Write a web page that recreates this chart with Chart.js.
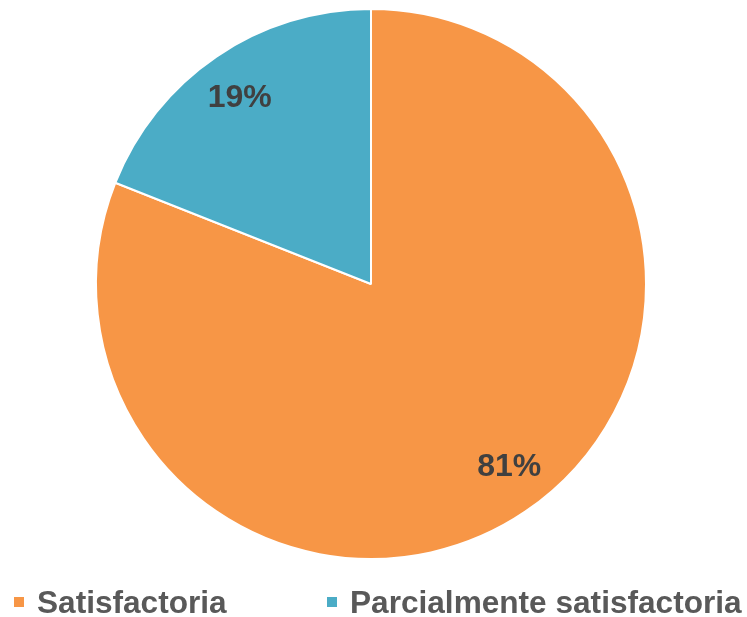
<!DOCTYPE html>
<html>
<head>
<meta charset="utf-8">
<script src="https://cdn.jsdelivr.net/npm/chart.js@4/dist/chart.umd.min.js"></script>
<style>
  html, body { margin: 0; padding: 0; background: #fff; }
  #wrap { position: relative; width: 747px; height: 617px; }
  #legend { position: absolute; left: 0; top: 587px; width: 747px; height: 30px;
    font: bold 31.6px "Liberation Sans", Arial, sans-serif; color: #595959; }
  .item { position: absolute; top: 0; line-height: 30px; white-space: nowrap; }
  .box { position: absolute; width: 10px; height: 10px; top: 10px; }
</style>
</head>
<body>
<div id="wrap">
  <canvas id="pie-chart" width="747" height="617"></canvas>
  <div id="legend"></div>
</div>
<script>
// Datos del gráfico
const categories = ['Satisfactoria', 'Parcialmente satisfactoria'];
const values = [81, 19];
const sliceColors = ['#F79646', '#4BACC6'];

// etiquetas de porcentaje dentro de cada porción
const percentLabels = {
  id: 'percentLabels',
  afterDatasetsDraw(chart) {
    const { ctx } = chart;
    const meta = chart.getDatasetMeta(0);
    const total = values.reduce((a, b) => a + b, 0);
    const nudge = [[10, -6], [-3, 3]]; // ajuste fino como en Excel
    ctx.save();
    ctx.font = 'bold 32px "Liberation Sans", Arial, sans-serif';
    ctx.fillStyle = '#404040';
    ctx.textAlign = 'center';
    ctx.textBaseline = 'middle';
    meta.data.forEach((arc, i) => {
      const mid = (arc.startAngle + arc.endAngle) / 2;
      const r = arc.outerRadius * 0.83;
      const x = arc.x + Math.cos(mid) * r + nudge[i][0];
      const y = arc.y + Math.sin(mid) * r + nudge[i][1];
      ctx.fillText(Math.round(values[i] / total * 100) + '%', x, y);
    });
    ctx.restore();
  }
};

const ctx = document.getElementById('pie-chart');
new Chart(ctx, {
  type: 'pie',
  data: {
    labels: categories,
    datasets: [{
      data: values,
      backgroundColor: sliceColors,
      borderColor: '#ffffff',
      borderWidth: 2
    }]
  },
  options: {
    responsive: false,
    animation: false,
    layout: { padding: { top: 8, bottom: 57, left: 0, right: 5 } },
    plugins: {
      legend: { display: false },
      tooltip: { enabled: false }
    }
  },
  plugins: [percentLabels]
});

// leyenda en HTML
const legendPos = [14, 327];
const legend = document.getElementById('legend');
categories.forEach((name, i) => {
  const item = document.createElement('div');
  item.className = 'item';
  item.style.left = legendPos[i] + 'px';
  item.innerHTML = '<span class="box" style="left:0;background:' + sliceColors[i] + '"></span>' +
    '<span style="margin-left:23px">' + name + '</span>';
  legend.appendChild(item);
});
</script>
</body>
</html>
